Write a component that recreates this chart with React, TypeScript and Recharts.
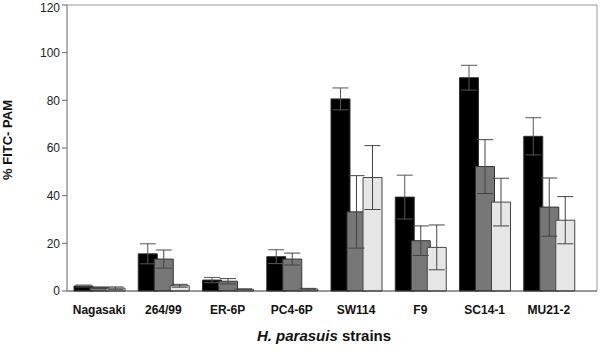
import React from "react";
import {
  BarChart,
  Bar,
  XAxis,
  YAxis,
  ErrorBar,
  Label,
  usePlotArea,
} from "recharts";

const strains = ["Nagasaki", "264/99", "ER-6P", "PC4-6P", "SW114", "F9", "SC14-1", "MU21-2"];
const blackVals = [2.1, 15.6, 4.6, 14.4, 80.6, 39.4, 89.5, 64.9];
const blackErr = [0.4, 4.2, 1.1, 2.9, 4.6, 9.2, 5.2, 7.8];
const grayVals = [1.4, 13.4, 4.1, 13.4, 33.2, 21.1, 52.2, 35.2];
const grayErr = [0.3, 3.8, 1.1, 2.5, 15.2, 6.2, 11.3, 12.2];
const lightVals = [1.2, 2.2, 0.7, 0.8, 47.6, 18.3, 37.3, 29.7];
const lightErr = [0.5, 0.6, 0.2, 0.3, 13.4, 9.4, 10, 9.9];
const yTicks = [0, 20, 40, 60, 80, 100, 120];

const data = strains.map((name, i) => ({
  name,
  a: blackVals[i],
  aErr: blackErr[i],
  b: grayVals[i],
  bErr: grayErr[i],
  c: lightVals[i],
  cErr: lightErr[i],
}));

const font = "'Liberation Sans', Arial, sans-serif";

function XTitle(props: any) {
  const { viewBox } = props;
  const cx = viewBox.x + viewBox.width / 2 - 8;
  return (
    <text
      x={cx}
      y={viewBox.y + 50}
      textAnchor="middle"
      fontFamily={font}
      fontWeight="bold"
      fontSize={15}
      fill="#111"
    >
      <tspan fontStyle="italic">H. parasuis</tspan>
      <tspan> strains</tspan>
    </text>
  );
}

// top and right edges of the plot box
function Frame() {
  const area = typeof usePlotArea === "function" ? usePlotArea() : null;
  if (!area) return null;
  const { x, y, width, height } = area;
  return (
    <path
      d={`M${x},${y}H${x + width}V${y + height}`}
      fill="none"
      stroke="#999"
      strokeWidth={1}
    />
  );
}

export default function App() {
  return (
    <div style={{ position: "absolute", left: 0, top: 0, width: 600, height: 352, background: "#fff" }}>
      <BarChart
        width={600}
        height={352}
        data={data}
        barSize={19}
        barGap={-3}
        margin={{ top: 5, right: 3, left: 0, bottom: 0 }}
        style={{ fontFamily: font }}
      >
        <XAxis
          dataKey="name"
          height={61}
          padding={{ left: 0, right: 16 }}
          tickLine={false}
          tickMargin={8}
          axisLine={{ stroke: "#333" }}
          tick={{ fill: "#111", fontSize: 12, fontWeight: "bold", fontFamily: font }}
          interval={0}
        >
          <Label content={<XTitle />} />
        </XAxis>
        <YAxis
          width={67}
          domain={[0, 120]}
          ticks={yTicks}
          tickSize={5}
          tickLine={{ stroke: "#666" }}
          axisLine={{ stroke: "#666" }}
          tick={{ fill: "#222", fontSize: 12, fontFamily: font }}
        >
          <Label
            value="% FITC- PAM"
            angle={-90}
            position="insideLeft"
            offset={7}
            dy={-8}
            style={{ textAnchor: "middle", fontWeight: "bold", fontSize: 13, fill: "#111", fontFamily: font }}
          />
        </YAxis>
        <Frame />
        <Bar dataKey="a" fill="#000" stroke="#333" isAnimationActive={false}>
          <ErrorBar dataKey="aErr" width={8} stroke="#555" strokeWidth={1} />
        </Bar>
        <Bar dataKey="b" fill="#777" stroke="#333" isAnimationActive={false}>
          <ErrorBar dataKey="bErr" width={8} stroke="#444" strokeWidth={1} />
        </Bar>
        <Bar dataKey="c" fill="#e6e6e6" stroke="#444" isAnimationActive={false}>
          <ErrorBar dataKey="cErr" width={8} stroke="#444" strokeWidth={1} />
        </Bar>
      </BarChart>
    </div>
  );
}
